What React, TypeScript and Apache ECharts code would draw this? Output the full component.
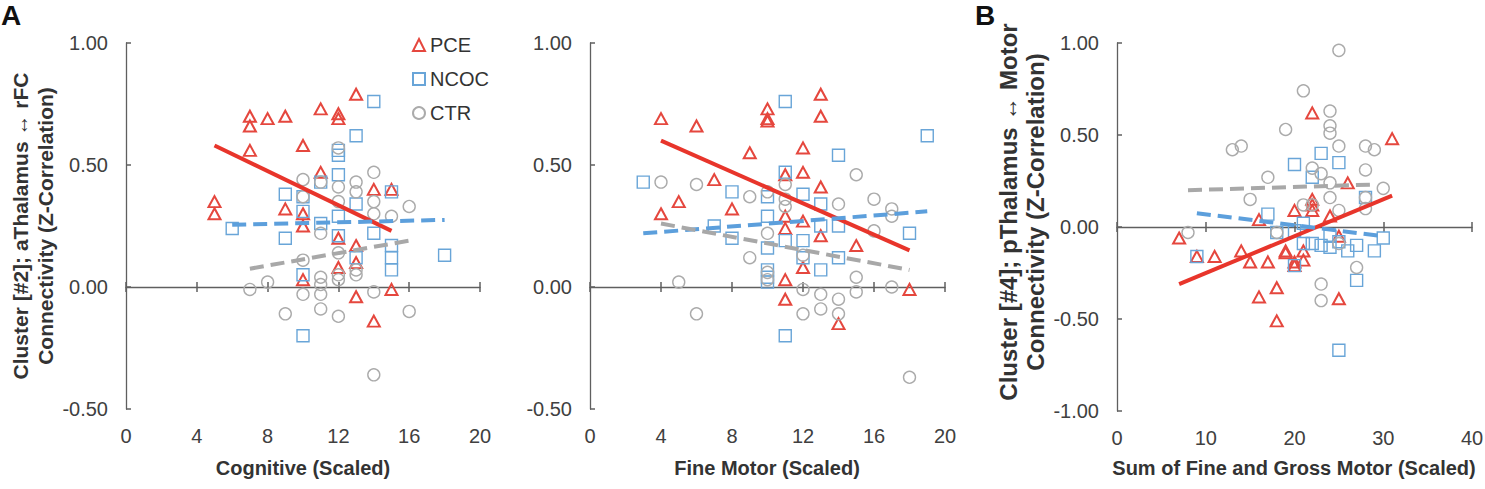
import React, { useEffect, useRef } from "react";
import * as echarts from "echarts";

// ---------- data ----------
const groupNames = ["PCE", "NCOC", "CTR"];

// Panel A (left): Cognitive (Scaled)
const pceCognitive = [[5,0.35],[5,0.30],[7,0.70],[7,0.66],[7,0.56],[8,0.69],[9,0.70],[9,0.32],[10,0.58],[10,0.30],[10,0.25],[10,0.03],[11,0.73],[11,0.47],[12,0.71],[12,0.69],[12,0.20],[12,0.08],[13,0.79],[13,0.17],[13,0.10],[13,-0.04],[14,0.40],[14,-0.14],[15,0.40],[15,-0.01]];
const ncocCognitive = [[6,0.24],[9,0.38],[9,0.20],[10,0.37],[10,0.31],[10,0.05],[10,-0.20],[11,0.43],[11,0.26],[12,0.56],[12,0.54],[12,0.46],[12,0.29],[12,0.21],[13,0.62],[13,0.34],[13,0.12],[14,0.76],[14,0.22],[15,0.39],[15,0.17],[15,0.12],[15,0.07],[18,0.13]];
const ctrCognitive = [[7,-0.01],[8,0.02],[9,-0.11],[10,0.44],[10,0.37],[10,0.11],[10,-0.03],[11,0.43],[11,0.22],[11,0.04],[11,0.01],[11,-0.03],[11,-0.09],[12,0.57],[12,0.41],[12,0.35],[12,0.14],[12,0.05],[12,0.03],[12,-0.12],[13,0.43],[13,0.39],[13,0.07],[13,0.05],[14,0.47],[14,0.35],[14,0.30],[14,-0.02],[14,-0.36],[15,0.29],[16,0.33],[16,-0.10]];
const pceCognitiveFit = [[5,0.58],[15,0.23]];
const ncocCognitiveFit = [[6,0.255],[18,0.275]];
const ctrCognitiveFit = [[7,0.075],[16,0.19]];

// Panel A (right): Fine Motor (Scaled)
const pceFine = [[4,0.69],[4,0.30],[5,0.35],[6,0.66],[7,0.44],[8,0.32],[9,0.55],[10,0.73],[10,0.69],[10,0.68],[11,0.46],[11,0.29],[11,0.24],[11,0.03],[11,-0.05],[12,0.57],[12,0.47],[12,0.27],[12,0.08],[13,0.79],[13,0.70],[13,0.41],[13,0.21],[14,-0.15],[15,0.17],[18,-0.01]];
const ncocFine = [[3,0.43],[7,0.25],[8,0.39],[8,0.20],[10,0.37],[10,0.29],[10,0.16],[10,0.07],[10,0.04],[10,0.02],[11,0.76],[11,0.47],[11,0.19],[11,-0.20],[12,0.38],[12,0.19],[12,0.12],[13,0.34],[13,0.25],[13,0.07],[14,0.54],[14,0.25],[14,0.12],[18,0.22],[19,0.62]];
const ctrFine = [[4,0.43],[5,0.02],[6,0.42],[6,-0.11],[9,0.37],[9,0.12],[10,0.39],[10,0.22],[10,0.06],[10,0.03],[11,0.42],[11,0.36],[11,0.33],[12,0.13],[12,-0.01],[12,-0.11],[13,-0.03],[13,-0.09],[14,0.34],[14,-0.05],[14,-0.11],[15,0.46],[15,0.04],[15,-0.02],[16,0.36],[16,0.23],[17,0.32],[17,0.29],[17,0.00],[18,-0.37]];
const pceFineFit = [[4,0.60],[18,0.15]];
const ncocFineFit = [[3,0.22],[19,0.31]];
const ctrFineFit = [[4,0.26],[18,0.07]];

// Panel B: Sum of Fine and Gross Motor (Scaled)
const pceMotor = [[7,-0.06],[9,-0.16],[11,-0.16],[14,-0.13],[15,-0.19],[16,0.04],[16,-0.38],[17,-0.19],[18,-0.33],[18,-0.51],[19,-0.13],[19,-0.14],[20,0.09],[20,-0.19],[20,-0.21],[21,-0.13],[21,-0.18],[22,0.62],[22,0.15],[22,0.09],[22,0.12],[24,0.06],[25,-0.05],[25,-0.39],[26,0.24],[31,0.48]];
const ncocMotor = [[9,-0.16],[17,0.07],[18,-0.03],[20,0.34],[20,-0.02],[20,-0.21],[21,-0.09],[21,0.02],[22,0.27],[22,-0.09],[23,0.40],[23,-0.10],[24,-0.11],[24,-0.05],[25,0.35],[25,-0.08],[25,-0.67],[26,-0.13],[27,-0.10],[27,-0.29],[28,0.16],[29,-0.13],[30,-0.06]];
const ctrMotor = [[8,-0.03],[13,0.42],[14,0.44],[15,0.15],[17,0.27],[18,-0.03],[19,0.53],[21,0.74],[21,0.12],[22,0.32],[22,0.12],[23,0.29],[23,-0.31],[23,-0.40],[24,0.63],[24,0.55],[24,0.51],[24,0.24],[24,0.16],[25,0.96],[25,0.44],[25,0.09],[25,-0.09],[27,-0.22],[28,0.44],[28,0.31],[28,0.16],[28,0.10],[29,0.42],[30,0.21]];
const pceMotorFit = [[7,-0.31],[31,0.17]];
const ncocMotorFit = [[9,0.075],[30,-0.05]];
const ctrMotorFit = [[8,0.20],[28.5,0.23]];

const xTitles = ["Cognitive (Scaled)", "Fine Motor (Scaled)", "Sum of Fine and Gross Motor (Scaled)"];
const yTitleA = ["Cluster [#2]; aThalamus \u2194 rFC", "Connectivity (Z-Correlation)"];
const yTitleB = ["Cluster [#4]; pThalamus \u2194 Motor", "Connectivity (Z-Correlation)"];
const xRangeA = { min: 0, max: 20, interval: 4 };
const xRangeB = { min: 0, max: 40, interval: 10 };
const yRangeA = { min: -0.5, max: 1, interval: 0.5 };
const yRangeB = { min: -1, max: 1, interval: 0.5 };

// ---------- styling ----------
const FONT = '"Liberation Sans", Arial, sans-serif';
const AXIS_COLOR = "#5f5f5f";
const LABEL_COLOR = "#404040";
const markerStyles = [
  { symbol: "triangle", size: [12, 11], color: "#e5473e", width: 2 },
  { symbol: "rect", size: 12, color: "#69a5d8", width: 1.4 },
  { symbol: "circle", size: 12, color: "#ababab", width: 1.4 },
];
const fitStyles = [
  { color: "#e8352b", type: "solid" as any },
  { color: "#5c9fdc", type: [14, 7] as any },
  { color: "#a8a8a8", type: [14, 7] as any },
];

const panels = [
  { grid: { left: 126, top: 43, width: 354, height: 366 }, x: xRangeA, y: yRangeA,
    data: [pceCognitive, ncocCognitive, ctrCognitive], fits: [pceCognitiveFit, ncocCognitiveFit, ctrCognitiveFit] },
  { grid: { left: 590, top: 43, width: 355, height: 366 }, x: xRangeA, y: yRangeA,
    data: [pceFine, ncocFine, ctrFine], fits: [pceFineFit, ncocFineFit, ctrFineFit] },
  { grid: { left: 1117, top: 43, width: 355, height: 368 }, x: xRangeB, y: yRangeB,
    data: [pceMotor, ncocMotor, ctrMotor], fits: [pceMotorFit, ncocMotorFit, ctrMotorFit] },
];

function buildOption() {
  const grid: any[] = [];
  const xAxis: any[] = [];
  const yAxis: any[] = [];
  const series: any[] = [];

  panels.forEach((p, g) => {
    grid.push({ ...p.grid, containLabel: false, outerBoundsMode: "none" });
    // x axis line on zero with outward ticks
    xAxis.push({
      gridIndex: g, type: "value", ...p.x, position: "bottom",
      axisLine: { show: true, onZero: true, onZeroAxisIndex: g, lineStyle: { color: AXIS_COLOR, width: 1.3 } },
      axisTick: { show: true, length: 5, lineStyle: { color: AXIS_COLOR, width: 1.5 } },
      axisLabel: { show: false },
      splitLine: { show: false },
    });
    // inward ticks on zero, so ticks cross the line
    xAxis.push({
      gridIndex: g, type: "value", ...p.x, position: "bottom",
      axisLine: { show: false, onZero: true, onZeroAxisIndex: g },
      axisTick: { show: true, inside: true, length: 5, lineStyle: { color: AXIS_COLOR, width: 1.5 } },
      axisLabel: { show: false },
      splitLine: { show: false },
    });
    // labels along the bottom of the plot
    xAxis.push({
      gridIndex: g, type: "value", ...p.x, position: "bottom",
      axisLine: { show: false, onZero: false },
      axisTick: { show: false },
      axisLabel: { show: true, margin: 17, fontSize: 20, color: LABEL_COLOR, fontFamily: FONT },
      splitLine: { show: false },
    });
    yAxis.push({
      gridIndex: g, type: "value", ...p.y, position: "left",
      axisLine: { show: true, onZero: false, lineStyle: { color: AXIS_COLOR, width: 1.3 } },
      axisTick: { show: true, inside: true, length: 5, lineStyle: { color: AXIS_COLOR, width: 1.5 } },
      axisLabel: { margin: 18, fontSize: 20, color: LABEL_COLOR, fontFamily: FONT, formatter: (v: number) => v.toFixed(2) },
      splitLine: { show: false },
    });
    const xIndex = g * 3;
    p.data.forEach((d, k) => {
      const m = markerStyles[k];
      series.push({
        type: "scatter", name: groupNames[k], xAxisIndex: xIndex, yAxisIndex: g, data: d,
        symbol: m.symbol, symbolSize: m.size, z: 2,
        itemStyle: { color: "rgba(255,255,255,0)", borderColor: m.color, borderWidth: m.width, opacity: 1 },
      });
    });
    p.fits.forEach((f, k) => {
      series.push({
        type: "line", name: groupNames[k] + " fit", xAxisIndex: xIndex, yAxisIndex: g, data: f,
        showSymbol: false, symbol: "none", z: 3,
        lineStyle: { color: fitStyles[k].color, width: 4, type: fitStyles[k].type, cap: "butt" },
      });
    });
  });

  const rotText = (text: string, x: number, y: number, size: number) => ({
    type: "text", x, y, rotation: Math.PI / 2, silent: true,
    style: { text, font: `bold ${size}px ${FONT}`, fill: "#333", align: "center", verticalAlign: "middle" },
  });
  const hText = (text: string, x: number, y: number, size: number, align = "center", fill = "#333") => ({
    type: "text", x, y, silent: true,
    style: { text, font: `bold ${size}px ${FONT}`, fill, align, verticalAlign: "middle" },
  });

  const graphic = [
    hText("A", 1, 15, 28, "left", "#111"),
    hText("B", 975, 15, 28, "left", "#111"),
    rotText(yTitleA[0], 20, 226, 21),
    rotText(yTitleA[1], 45, 226, 21),
    rotText(yTitleB[0], 1008, 212, 24),
    rotText(yTitleB[1], 1035, 212, 24),
    hText(xTitles[0], 303, 468, 20),
    hText(xTitles[1], 767, 468, 20),
    hText(xTitles[2], 1294, 468, 20),
  ];

  return {
    animation: false,
    backgroundColor: "#ffffff",
    textStyle: { fontFamily: FONT },
    grid, xAxis, yAxis, series, graphic,
    legend: {
      left: 407, top: 30, orient: "vertical", itemWidth: 12, itemHeight: 12, itemGap: 14,
      selectedMode: false,
      textStyle: { fontSize: 20, color: "#333", fontFamily: FONT },
      data: [
        { name: "PCE", icon: "triangle" },
        { name: "NCOC", icon: "rect" },
        { name: "CTR", icon: "circle" },
      ],
    },
  };
}

export default function App() {
  const ref = useRef<HTMLDivElement>(null);
  useEffect(() => {
    if (!ref.current) return;
    const chart = echarts.init(ref.current, undefined, { renderer: "svg" });
    chart.setOption(buildOption() as any);
    return () => chart.dispose();
  }, []);
  return (
    <div
      ref={ref}
      style={{ position: "fixed", left: 0, top: 0, width: 1485, height: 489, background: "#fff" }}
    />
  );
}
